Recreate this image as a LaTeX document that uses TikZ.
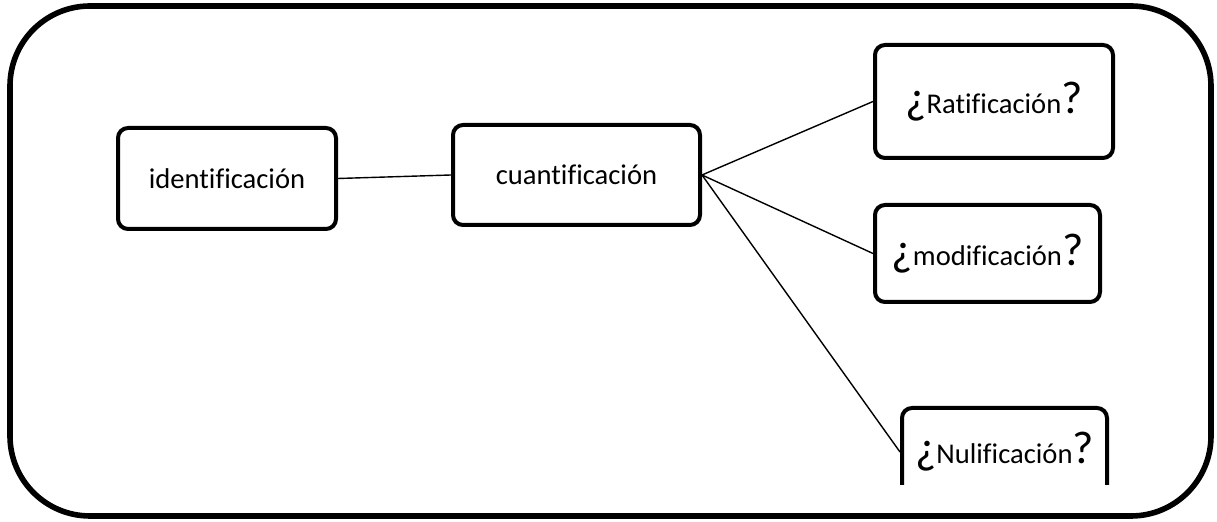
\documentclass[tikz,border=0pt]{standalone}
\usepackage{fontspec}
\setmainfont[Ligatures=NoCommon]{Carlito}
\begin{document}
\begin{tikzpicture}[x=0.5pt,y=-0.5pt,
  box/.style={draw=black,line width=2pt,rounded corners=5pt,fill=white,inner sep=0pt,align=center,font=\fontsize{14.3}{16}\selectfont},
  conn/.style={draw=black,line width=0.7pt},
  outer/.style={draw=black,line width=2.8pt,rounded corners=40pt}]
\newcommand{\qbig}[1]{{\fontsize{23}{23}\selectfont #1}}
\useasboundingbox (0,0) rectangle (1217,522);
\draw[outer] (10,6) rectangle (1211,516);
\node[box,minimum width=109pt,minimum height=50.5pt] (iden) at (227,178.5) {identificación};
\node[box,minimum width=123.5pt,minimum height=50pt] (cuan) at (576.5,175) {cuantificación};
\node[box,minimum width=119pt,minimum height=56.5pt] (rati) at (994,101.5) {\qbig{¿}Ratificación\qbig{?}};
\node[box,minimum width=112.5pt,minimum height=48.5pt] (modi) at (987.5,253.5) {\qbig{¿}modificación\qbig{?}};
\node[box,draw=none,fill=none,minimum width=102.5pt,minimum height=20pt] (nuli) at (1004.5,452) {\qbig{¿}Nulificación\qbig{?}};
\draw[line width=2pt,rounded corners=5pt] (902,485) -- (902,408) -- (1107,408) -- (1107,485);
\draw[conn] (iden.east) -- (cuan.west);
\draw[conn] (cuan.east) -- (rati.west);
\draw[conn] (cuan.east) -- (modi.west);
\draw[conn] (cuan.east) -- (nuli.west);
\end{tikzpicture}
\end{document}
